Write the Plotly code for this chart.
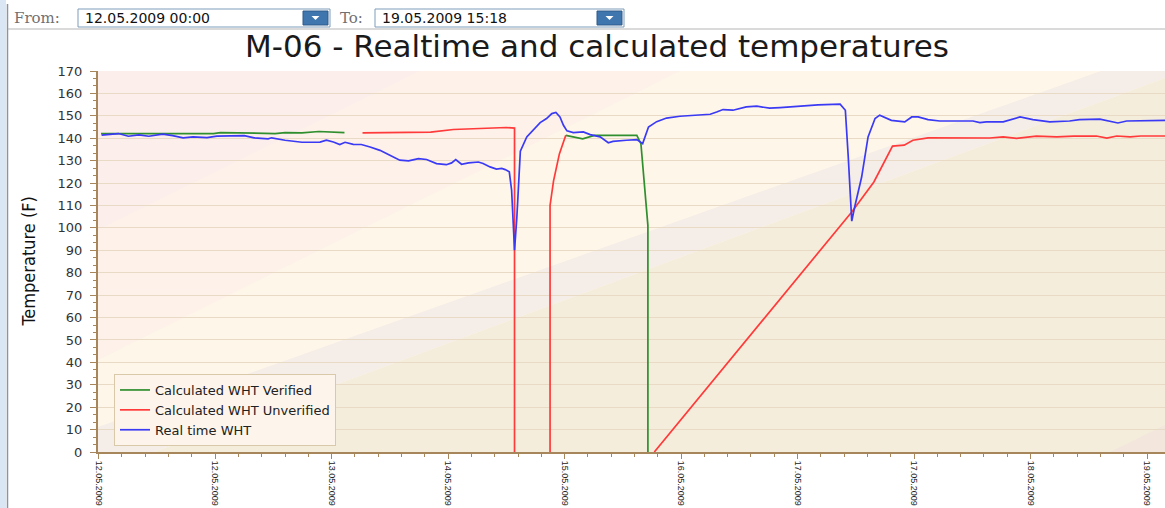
import pandas as pd
import plotly.graph_objects as go

# hours since 12.05.2009 00:00, temperatures in F
verified_hours = [0.4, 19.7, 20.9, 28.5, 30.3, 32.0, 34.9, 37.8, 39.6, 42.2, 60.0,
                  80.2, 83.1, 85.1, 92.4, 93.1, 94.3, 94.3]
verified_temp = [142.1, 142.1, 142.5, 142.4, 142.1, 142.5, 142.4, 143.0, 142.7, 142.5, None,
                 141.3, 139.7, 141.3, 141.3, 137.6, 101.0, 0]

unverified_hours = [45.3, 57.0, 60.9, 66.5, 70.0, 71.4, 71.4, 74.0,
                    77.5, 77.5, 78.1, 79.1, 80.2, 88.0,
                    95.4, 129.3, 133.1, 136.3, 138.3, 139.8, 142.4, 153.0, 155.3, 157.6,
                    161.0, 164.5, 167.4, 171.3, 173.1, 174.8, 177.1, 178.9, 183.3]
unverified_temp = [142.4, 142.7, 143.9, 144.3, 144.8, 144.5, 0, None,
                   0, 110.0, 121.0, 133.0, 141.3, None,
                   0, 107.1, 120.5, 136.5, 136.9, 139.1, 140.2, 140.1, 140.6, 139.9,
                   140.9, 140.6, 140.9, 141.0, 140.1, 141.0, 140.6, 141.0, 141.0]

realtime_hours = [0.5, 3.4, 5.1, 6.9, 8.6, 11.0, 12.7, 14.5, 16.2, 18.6, 20.3, 22.7, 25.0,
                  26.7, 29.1, 29.7, 32.0, 34.9, 36.5, 38.0, 39.1, 40.3, 41.4, 42.3, 43.7,
                  45.1, 46.6, 48.3, 50.0, 51.7, 53.2, 54.9, 56.3, 58.0, 59.7, 60.6, 61.3,
                  62.3, 63.5, 65.2, 66.0, 67.2, 68.3, 69.2, 69.8, 70.5, 70.9, 71.4, 71.8,
                  72.4, 73.5, 74.6, 75.8, 76.9, 77.8, 78.5, 79.2, 79.8, 80.4, 81.5, 83.2,
                  84.4, 86.1, 87.5, 88.3, 90.6, 92.4, 93.4, 94.4, 95.8, 97.5, 99.8, 102.7,
                  105.0, 106.1, 107.2, 108.9, 111.2, 113.0, 115.2, 117.0, 118.7, 121.0,
                  123.5, 127.3, 128.2, 128.7, 129.3, 129.8, 131.0, 132.1, 133.3, 134.1,
                  136.1, 138.4, 139.6, 140.7, 142.4, 144.4, 150.1, 151.3, 152.4, 155.3,
                  158.2, 160.4, 163.3, 166.7, 168.4, 171.9, 175.0, 176.5, 179.9, 183.3]
realtime_temp = [141.4, 142.1, 140.9, 141.5, 140.9, 141.8, 141.2, 140.2, 140.6, 140.3, 140.9,
                 141.2, 141.2, 140.2, 139.7, 140.2, 139.1, 138.2, 138.2, 138.3, 139.1, 138.3,
                 137.2, 138.2, 137.3, 137.2, 136.1, 134.6, 132.4, 130.2, 129.9, 130.9, 130.5,
                 128.7, 128.2, 129.0, 130.5, 128.4, 129.0, 129.4, 128.7, 127.2, 126.2, 126.5,
                 126.0, 125.0, 116.8, 90.0, 104.8, 134.2, 140.6, 143.6, 147.0, 148.8, 151.0,
                 151.5, 149.5, 145.8, 143.3, 142.5, 142.8, 141.6, 140.6, 138.0, 138.6, 139.1,
                 139.4, 137.6, 145.0, 147.4, 149.0, 149.8, 150.4, 150.7, 151.7, 152.8, 152.5,
                 154.0, 154.3, 153.4, 153.7, 154.0, 154.7, 154.9, 155.2, 152.5, 131.6, 103.0,
                 109.3, 122.7, 140.6, 148.8, 150.3, 148.0, 147.3, 149.5, 149.5, 148.3, 147.7,
                 147.7, 147.0, 147.3, 147.3, 149.5, 148.3, 147.3, 147.7, 148.3, 148.5, 146.8,
                 147.7, 148.0, 148.0]

series_names = ["Calculated WHT Verified", "Calculated WHT Unverified", "Real time WHT"]
series_colors = ["#2f8f2f", "#ff3a3a", "#3a3af5"]

from_text = "12.05.2009 00:00"
to_text = "19.05.2009 15:18"

START = pd.Timestamp("2009-05-12 00:00")


def to_time(hours):
    return [START + pd.Timedelta(hours=h) for h in hours]


# pixel helpers for decoration (plot area spans x 98..1165, y 71..452)
def px(x):
    return (x - 98) / 1067


def py(y):
    return (452 - y) / 381


fig = go.Figure()
for hrs, vals, name, color in [
    (verified_hours, verified_temp, series_names[0], series_colors[0]),
    (unverified_hours, unverified_temp, series_names[1], series_colors[1]),
    (realtime_hours, realtime_temp, series_names[2], series_colors[2]),
]:
    fig.add_trace(go.Scatter(x=to_time(hrs), y=vals, mode="lines", name=name,
                             line=dict(color=color, width=1.7), connectgaps=False))

shapes = []
# plot background tones
shapes.append(dict(type="path", xref="paper", yref="paper", layer="below", line_width=0,
                   fillcolor="#fcefe9", opacity=0.6,
                   path=f"M {px(98)},{py(71)} L {px(680)},{py(71)} L {px(98)},{py(360)} Z"))
shapes.append(dict(type="path", xref="paper", yref="paper", layer="below", line_width=0,
                   fillcolor="#fcefec", opacity=0.6,
                   path=f"M {px(98)},{py(71)} L {px(420)},{py(71)} L {px(98)},{py(230)} Z"))
shapes.append(dict(type="path", xref="paper", yref="paper", layer="below", line_width=0,
                   fillcolor="#f5eee8",
                   path=f"M {px(98)},{py(427)} L {px(1101)},{py(71)} L {px(1165)},{py(71)} "
                        f"L {px(1165)},{py(78)} L {px(154)},{py(452)} L {px(98)},{py(452)} Z"))
shapes.append(dict(type="path", xref="paper", yref="paper", layer="below", line_width=0,
                   fillcolor="#f5eddc",
                   path=f"M {px(154)},{py(452)} L {px(1165)},{py(78)} L {px(1165)},{py(452)} Z"))
shapes.append(dict(type="path", xref="paper", yref="paper", layer="below", line_width=0,
                   fillcolor="#f3e6dc",
                   path=f"M {px(1110)},{py(452)} L {px(1165)},{py(425)} L {px(1165)},{py(452)} Z"))

# window frame
shapes.append(dict(type="rect", xref="paper", yref="paper", line_width=0, fillcolor="#dbe6f5",
                   x0=px(0), x1=px(6), y0=py(508), y1=py(0)))
shapes.append(dict(type="line", xref="paper", yref="paper", line=dict(color="#8895a8", width=1.5),
                   x0=px(7.5), x1=px(7.5), y0=py(508), y1=py(4)))
shapes.append(dict(type="line", xref="paper", yref="paper", line=dict(color="#b5b5b5", width=1),
                   x0=px(8), x1=px(1165), y0=py(29), y1=py(29)))

# date pickers
for bx0, bx1 in [(78, 330), (375, 624)]:
    shapes.append(dict(type="rect", xref="paper", yref="paper", fillcolor="white",
                       line=dict(color="#7f9db9", width=1),
                       x0=px(bx0), x1=px(bx1), y0=py(27), y1=py(9)))
    shapes.append(dict(type="rect", xref="paper", yref="paper", fillcolor="#3f76ad",
                       line=dict(color="#2c5a8a", width=1),
                       x0=px(bx1 - 27), x1=px(bx1 - 2), y0=py(25), y1=py(11)))
    cx = bx1 - 14.5
    shapes.append(dict(type="path", xref="paper", yref="paper", fillcolor="white", line_width=0,
                       path=f"M {px(cx - 4)},{py(16)} L {px(cx + 4)},{py(16)} L {px(cx)},{py(20)} Z"))

annotations = [
    dict(text="From:", x=px(12), y=py(18), xref="paper", yref="paper", xanchor="left",
         yanchor="middle", showarrow=False, font=dict(family="DejaVu Serif", size=15, color="#707070")),
    dict(text=from_text, x=px(83), y=py(18), xref="paper", yref="paper", xanchor="left",
         yanchor="middle", showarrow=False, font=dict(family="DejaVu Sans", size=14, color="#111")),
    dict(text="To:", x=px(338), y=py(18), xref="paper", yref="paper", xanchor="left",
         yanchor="middle", showarrow=False, font=dict(family="DejaVu Serif", size=15, color="#707070")),
    dict(text=to_text, x=px(380), y=py(18), xref="paper", yref="paper", xanchor="left",
         yanchor="middle", showarrow=False, font=dict(family="DejaVu Sans", size=14, color="#111")),
    dict(text="Temperature (F)", x=px(28), y=0.5, xref="paper", yref="paper", textangle=-90,
         xanchor="center", yanchor="middle", showarrow=False,
         font=dict(family="DejaVu Sans Condensed, sans-serif", size=18, color="#111")),
]

axis_col = "#a6865a"
fig.update_layout(
    width=1165, height=508, autosize=False,
    margin=dict(l=98, r=0, t=71, b=56, autoexpand=False),
    paper_bgcolor="white", plot_bgcolor="#fef6e8",
    title=dict(text="M-06 - Realtime and calculated temperatures", xref="paper", x=px(597),
               xanchor="center", yref="container", y=1 - 46 / 508, yanchor="middle",
               font=dict(family="DejaVu Sans", size=31, color="#1a1a1a")),
    font=dict(family="DejaVu Sans", color="#333"),
    shapes=shapes, annotations=annotations,
    showlegend=True,
    legend=dict(x=px(114), y=py(446), xanchor="left", yanchor="bottom",
                bgcolor="#fdf5ec", bordercolor="#d9c9a9", borderwidth=1,
                font=dict(family="DejaVu Sans", size=13, color="#222"),
                itemwidth=30, tracegroupgap=0),
)
fig.update_xaxes(
    type="date", range=["2009-05-11 23:53", "2009-05-19 15:05"], automargin=False,
    tick0="2009-05-12 00:00", dtick=20 * 3600 * 1000, tickformat="%d.%m.%Y", tickangle=90,
    ticks="outside", ticklen=5, tickcolor=axis_col, tickwidth=1,
    minor=dict(dtick=4 * 3600 * 1000, ticks="outside", ticklen=3, tickcolor=axis_col, showgrid=False),
    showline=True, linecolor=axis_col, linewidth=2, showgrid=False, zeroline=False,
    tickfont=dict(family="Liberation Sans Narrow, Liberation Sans, sans-serif", size=9, color="#222"),
)
fig.update_yaxes(
    range=[0, 170], dtick=10, tick0=0, automargin=False,
    ticks="outside", ticklen=6, tickcolor=axis_col, tickwidth=1, ticklabelstandoff=5,
    minor=dict(dtick=10 / 3, ticks="outside", ticklen=3, tickcolor=axis_col, showgrid=False),
    showline=True, linecolor=axis_col, linewidth=2,
    showgrid=True, gridcolor="#e8dac4", gridwidth=1, zeroline=False,
    tickfont=dict(family="DejaVu Sans", size=13, color="#333"),
)

fig.write_html("out.html", config={"displayModeBar": False},
               post_script="document.body.style.margin='0px';document.body.style.overflow='hidden';")
